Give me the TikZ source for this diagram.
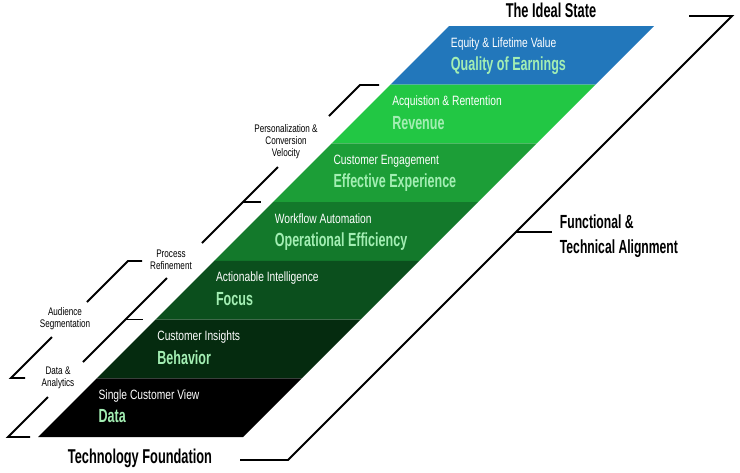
\documentclass[tikz,border=0pt]{standalone}
\usepackage{fontspec}
\setmainfont{Liberation Sans}
\newfontfamily\narrowfont{Liberation Sans}[FakeStretch=0.76]
\newfontfamily\smallnarrowfont{Liberation Sans}[FakeStretch=0.74]
\newfontfamily\condfont{Liberation Sans}[FakeStretch=0.66]
\newfontfamily\titlefont{Liberation Sans}[FakeStretch=0.64]
\usetikzlibrary{positioning}
\definecolor{earnblue}{HTML}{2277BB}
\definecolor{revgreen}{HTML}{22C744}
\definecolor{expgreen}{HTML}{1C9E37}
\definecolor{opgreen}{HTML}{13792B}
\definecolor{focgreen}{HTML}{0B4F1D}
\definecolor{behgreen}{HTML}{052B0F}
\definecolor{mint}{HTML}{A3EEB3}

\begin{document}
\begin{tikzpicture}[x=1pt, y=-1pt, line width=1.9pt,
  sublabel/.style={anchor=base west, inner sep=0pt, text=white, font=\narrowfont\fontsize{13.5}{15}\selectfont},
  headlabel/.style={anchor=base west, inner sep=0pt, text=mint, font=\condfont\bfseries\fontsize{19}{22}\selectfont},
  brlabel/.style={align=center, inner sep=0pt, font=\smallnarrowfont\fontsize{11}{12}\selectfont},
  bigtitle/.style={inner sep=0pt, font=\titlefont\bfseries\fontsize{20}{24}\selectfont}]
\useasboundingbox (0,0) rectangle (740,472);
% stacked bands, top to bottom
\fill[earnblue] (449,26) -- ++(205,0) -- ++(-58.71,58.71) -- ++(-205,0) -- cycle;
\fill[revgreen] (390.29,84.71) -- ++(205,0) -- ++(-58.71,58.71) -- ++(-205,0) -- cycle;
\fill[expgreen] (331.57,143.43) -- ++(205,0) -- ++(-58.71,58.71) -- ++(-205,0) -- cycle;
\fill[opgreen] (272.86,202.14) -- ++(205,0) -- ++(-58.71,58.71) -- ++(-205,0) -- cycle;
\fill[focgreen] (214.14,260.86) -- ++(205,0) -- ++(-58.71,58.71) -- ++(-205,0) -- cycle;
\fill[behgreen] (155.43,319.57) -- ++(205,0) -- ++(-58.71,58.71) -- ++(-205,0) -- cycle;
\fill[black] (96.71,378.29) -- ++(205,0) -- ++(-58.71,58.71) -- ++(-205,0) -- cycle;

\node[sublabel] (earnsub) at (450,47) {Equity \& Lifetime Value};
\node[headlabel] (earnhead) at (450,70.5) {Quality of Earnings};
\node[sublabel] (revsub) at (391.3,105.7) {Acquistion \& Rentention};
\node[headlabel] (revhead) at (391.3,129.2) {Revenue};
\node[sublabel] (expsub) at (332.6,164.4) {Customer Engagement};
\node[headlabel] (exphead) at (332.6,187.9) {Effective Experience};
\node[sublabel] (opsub) at (273.9,223.1) {Workflow Automation};
\node[headlabel] (ophead) at (273.9,246.6) {Operational Efficiency};
\node[sublabel] (focsub) at (215.1,281.9) {Actionable Intelligence};
\node[headlabel] (fochead) at (215.1,305.4) {Focus};
\node[sublabel] (behsub) at (156.4,340.6) {Customer Insights};
\node[headlabel] (behhead) at (156.4,364.1) {Behavior};
\node[sublabel] (datasub) at (97.7,399.3) {Single Customer View};
\node[headlabel] (datahead) at (97.7,422.8) {Data};

\node[bigtitle] (ideal) at (551,10) {The Ideal State};
\node[bigtitle] (foundation) at (140,458) {Technology Foundation};

% right bracket
\coordinate (rtop) at (732,16);
\coordinate (rbot) at (288,460);
\coordinate (rmid) at (516,232);
\draw (689,16) -- (rtop) -- (rbot) -- (240,460);
\draw (rmid) -- ++(36,0);
\node[bigtitle, align=left, anchor=west, font=\titlefont\bfseries\fontsize{19}{25.5}\selectfont] (align) at (559,236) {Functional \&\\Technical Alignment};

% left brackets
\draw (379,85) -- (360,85) -- (329,116);
\draw (278,167) -- (202,243);
\draw (243,202) -- ++(18,0);
\draw (167,278) -- (83,362);
\draw (125.5,319.5) -- ++(17,0);
\draw (48,397) -- (8,437) -- (30,437);
\draw (142,261) -- (128,261) -- (87,302);
\draw (52,337) -- (11,378) -- (25,378);

\node[brlabel] (persona) at (286,142) {Personalization \&\\Conversion\\Velocity};
\node[brlabel] (process) at (171,260) {Process\\Refinement};
\node[brlabel] (audience) at (65,319) {Audience\\Segmentation};
\node[brlabel] (analytics) at (58,378) {Data \&\\Analytics};
\end{tikzpicture}
\end{document}
